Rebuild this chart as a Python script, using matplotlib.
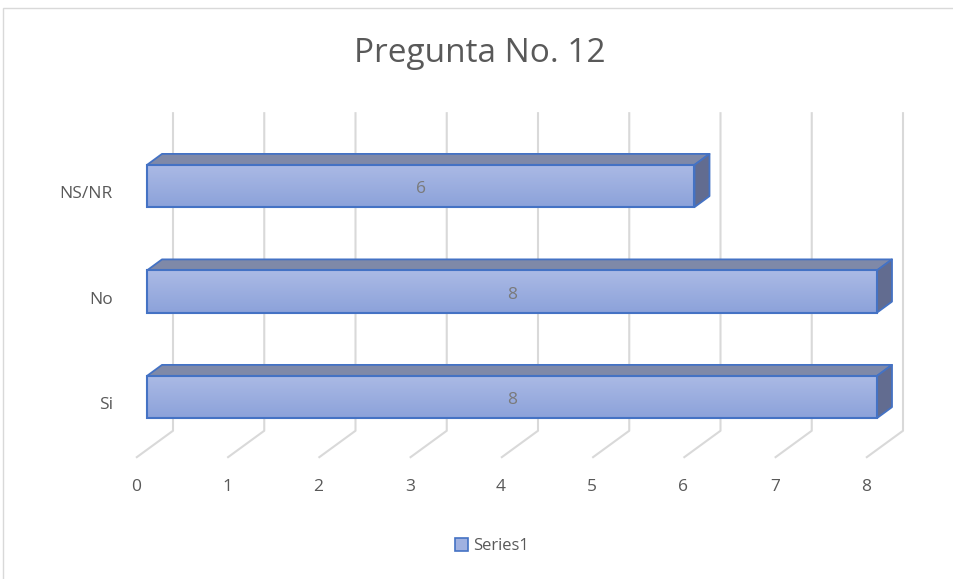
import matplotlib
matplotlib.use("Agg")
import matplotlib.pyplot as plt
import numpy as np
from matplotlib.patches import Rectangle, Polygon, Patch

# ---- data ----
categories = ["Si", "No", "NS/NR"]
values = [8, 8, 6]
x_ticks = [0, 1, 2, 3, 4, 5, 6, 7, 8]
series_name = "Series1"
chart_title = "Pregunta No. 12"

plt.rcParams["font.family"] = ["Open Sans", "DejaVu Sans"]

W, H, DPI = 954, 579, 100
fig = plt.figure(figsize=(W / DPI, H / DPI), dpi=DPI)
fig.patch.set_facecolor("white")

# axes frame = front plane of the bars (pixel geometry, y measured downward)
x0_px, x1_px = 147, 877
y_bot_px, y_top_px = 449.75, 133.25
ax = fig.add_axes([x0_px / W, 1 - y_bot_px / H,
                   (x1_px - x0_px) / W, (y_bot_px - y_top_px) / H])
xlim = (0, 8)
ylim = (-0.5, 2.5)
px_x = (x1_px - x0_px) / (xlim[1] - xlim[0])
px_y = (y_bot_px - y_top_px) / (ylim[1] - ylim[0])


def depth(dx_px, dy_px):
    """Pixel offset of a depth plane, converted to data units (y up)."""
    return dx_px / px_x, dy_px / px_y


bx, by = depth(15, 11)      # back face of the bars
fx, fy = depth(-11, -8)     # front edge of the floor
wx, wy = depth(26, 19)      # back wall
wall_top = 2.52
bar_h = 0.2                  # half thickness of a bar

grid_col = "#D9D9D9"
edge_col = "#4472C4"
text_col = "#595959"

# gridlines on the back wall and their floor diagonals
floor_y = ylim[0]
for t in x_ticks:
    ax.plot([t + fx, t + wx, t + wx], [floor_y + fy, floor_y + wy, wall_top + wy],
            color=grid_col, lw=1.5, solid_capstyle="butt", zorder=1,
            clip_on=False)

# gradient for the bar front faces
top_rgb = np.array([0xAB, 0xBA, 0xE5]) / 255
bot_rgb = np.array([0x8C, 0xA2, 0xDA]) / 255
grad = np.linspace(0, 1, 64)[:, None]
grad_img = (top_rgb[None, :] * (1 - grad) + bot_rgb[None, :] * grad)[:, None, :]

for i, (cat, v) in enumerate(zip(categories, values)):
    yb, yt = i - bar_h, i + bar_h
    # top face
    ax.add_patch(Polygon([(0, yt), (v, yt), (v + bx, yt + by), (bx, yt + by)],
                         closed=True, facecolor="#7F89A8", edgecolor=edge_col,
                         lw=1.3, joinstyle="round", zorder=3, clip_on=False))
    # side face
    ax.add_patch(Polygon([(v, yb), (v + bx, yb + by), (v + bx, yt + by), (v, yt)],
                         closed=True, facecolor="#626C90", edgecolor=edge_col,
                         lw=1.3, joinstyle="round", zorder=3, clip_on=False))
    # front face
    im = ax.imshow(grad_img, extent=(0, v, yb, yt), aspect="auto",
                   interpolation="bilinear", zorder=4)
    im.set_clip_on(False)
    ax.add_patch(Rectangle((0, yb), v, yt - yb, facecolor="none",
                           edgecolor=edge_col, lw=1.5, zorder=5, clip_on=False))
    # value label
    ax.text(v / 2, i - 0.03, str(v), ha="center", va="center",
            fontsize=12.5, color="#7A7A7A", zorder=6)
    # category label
    ax.text(fx - 23 / px_x, i + fy, cat, ha="right", va="center",
            fontsize=12.5, color=text_col, zorder=6)

# value axis labels along the floor front edge
for t in x_ticks:
    ax.text(t + fx, floor_y + fy - 29 / px_y, str(t), ha="center", va="center",
            fontsize=12.5, color=text_col)

ax.set_xlim(*xlim)
ax.set_ylim(*ylim)
ax.axis("off")

fig.text(480 / W, 1 - 62 / H, chart_title, ha="center", va="baseline",
         fontsize=24, color=text_col)

fig.legend(handles=[Patch(facecolor="#A0B1E0", edgecolor=edge_col, lw=1.2,
                          label=series_name)],
           loc="center", bbox_to_anchor=(492 / W, 1 - 546 / H), frameon=False,
           fontsize=12, handlelength=0.8, handleheight=0.8, handletextpad=0.3,
           labelcolor=text_col)

# outer chart border
fig.patches.append(Rectangle((3 / W, -0.1), 2, 1 - 8 / H + 0.1,
                             transform=fig.transFigure, fill=False,
                             edgecolor="#D9D9D9", lw=1.0))

fig.savefig("out.png", dpi=DPI)
